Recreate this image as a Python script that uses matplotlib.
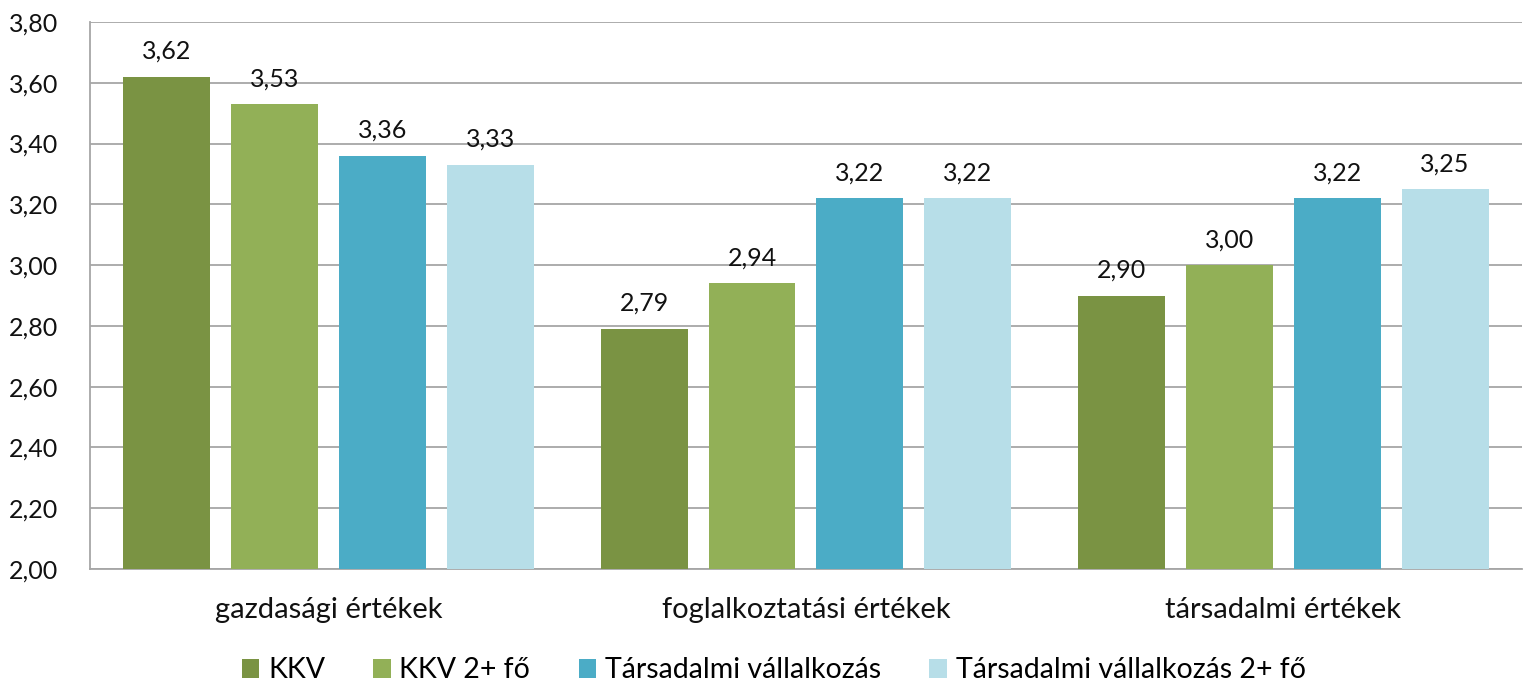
import numpy as np
import matplotlib.pyplot as plt

categories = ['gazdasági értékek', 'foglalkoztatási értékek', 'társadalmi értékek']
series = ['KKV', 'KKV 2+ fő', 'Társadalmi vállalkozás', 'Társadalmi vállalkozás 2+ fő']
kkv = [3.62, 2.79, 2.90]
kkv2 = [3.53, 2.94, 3.00]
tv = [3.36, 3.22, 3.22]
tv2 = [3.33, 3.22, 3.25]
colors = ['#7A9343', '#92B057', '#4BACC6', '#B7DEE8']

plt.rcParams['font.family'] = ['Lato', 'DejaVu Sans']

fig = plt.figure(figsize=(15.23, 6.85), dpi=100)
ax = fig.add_axes([0.0591, 0.1693, 0.9402, 0.7986])

x = np.arange(len(categories))
width = 0.182
step = 0.226
for i, (name, vals) in enumerate(zip(series, [kkv, kkv2, tv, tv2])):
    pos = x + (i - 1.5) * step
    bars = ax.bar(pos, vals, width, color=colors[i], label=name, zorder=3)
    for b, v in zip(bars, vals):
        ax.annotate(f'{v:.2f}'.replace('.', ','), (b.get_x() + b.get_width() / 2, v),
                    xytext=(0, 10), textcoords='offset points', ha='center', va='bottom',
                    fontsize=18, color='#111111')

ax.set_ylim(2.0, 3.8)
ax.set_xlim(-0.5, 2.5)
ax.set_yticks(np.arange(2.0, 3.81, 0.2))
ax.set_yticklabels([f'{t:.2f}'.replace('.', ',') for t in np.arange(2.0, 3.81, 0.2)])
ax.set_xticks(x)
ax.set_xticklabels(categories)
ax.tick_params(axis='both', length=0, labelsize=18, colors='#111111')
ax.tick_params(axis='x', pad=20, labelsize=21)
ax.tick_params(axis='y', pad=23)
ax.yaxis.grid(True, color='#a6a6a6', linewidth=1.3, zorder=0)
for s in ['top', 'right']:
    ax.spines[s].set_visible(False)
for s in ['left', 'bottom']:
    ax.spines[s].set_color('#a6a6a6')
    ax.spines[s].set_linewidth(1.3)

fig.legend(loc='lower center', ncol=4, frameon=False, fontsize=20.5,
           bbox_to_anchor=(0.508, -0.035), handlelength=0.62, handleheight=0.62,
           columnspacing=1.7, handletextpad=0.3)

fig.savefig('out.png', dpi=100)
